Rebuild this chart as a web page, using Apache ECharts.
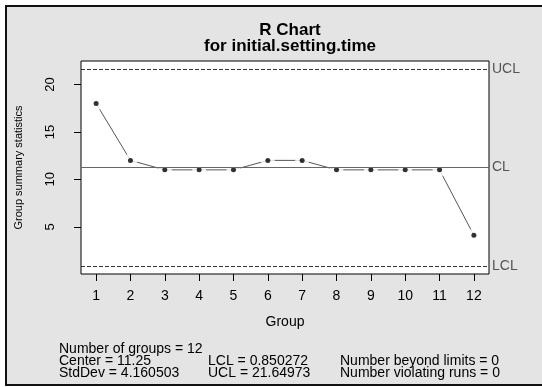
<!DOCTYPE html>
<html>
<head>
<meta charset="utf-8">
<script src="https://cdn.jsdelivr.net/npm/echarts@6/dist/echarts.min.js"></script>
<style>
  html, body { margin: 0; padding: 0; background: #fff; }
  #chart { width: 542px; height: 387px; }
</style>
</head>
<body>
<div id="chart"></div>
<script>
// R chart (qcc) for initial.setting.time
const groups = [1, 2, 3, 4, 5, 6, 7, 8, 9, 10, 11, 12]
const ranges = [18, 12, 11, 11, 11, 12, 12, 11, 11, 11, 11, 4.1]
const yTicks = [5, 10, 15, 20]
const limits = { LCL: 0.850272, CL: 11.25, UCL: 21.64973 }
const statLines = [
  ['Number of groups = 12', '', ''],
  ['Center = 11.25', 'LCL = 0.850272', 'Number beyond limits = 0'],
  ['StdDev = 4.160503', 'UCL = 21.64973', 'Number violating runs = 0']
]

const font = 'Liberation Sans, Arial, sans-serif'
const chart = echarts.init(document.getElementById('chart'))

// R pads the data range by 4% on each side
const yLo = limits.LCL, yHi = limits.UCL
const yPad = (yHi - yLo) * 0.04
const xPad = (groups[groups.length - 1] - groups[0]) * 0.04

const statText = []
const cols = [59, 208, 340]
statLines.forEach((row, i) => {
  row.forEach((t, j) => {
    if (!t) return
    statText.push({
      type: 'text', left: cols[j], top: 342 + i * 12, z: 10,
      style: { text: t, font: '14px ' + font, fill: '#000' }
    })
  })
})

const limitLine = (name, value, type) => ({
  yAxis: value,
  lineStyle: { type: type, color: type === 'solid' ? '#666' : '#333', width: 1 },
  label: { formatter: name }
})

const points = groups.map((g, i) => [g, ranges[i]])

chart.setOption({
  animation: false,
  backgroundColor: '#fff',
  graphic: [
    {
      type: 'rect', z: -10,
      shape: { x: 6, y: 6, width: 560, height: 379 },
      style: { fill: '#e4e4e4', stroke: '#111', lineWidth: 2 }
    },
    ...statText
  ],
  title: {
    text: 'R Chart\nfor initial.setting.time',
    left: 285, top: 17, textAlign: 'center',
    textStyle: { fontFamily: font, fontWeight: 'bold', fontSize: 17, lineHeight: 16, color: '#000' }
  },
  grid: {
    left: 81, right: 53, top: 61, bottom: 113,
    show: true, backgroundColor: '#fff', borderColor: '#000', borderWidth: 1
  },
  xAxis: {
    type: 'value',
    min: groups[0] - xPad, max: groups[groups.length - 1] + xPad,
    name: 'Group', nameLocation: 'middle', nameGap: 41,
    nameTextStyle: { fontFamily: font, fontSize: 14, color: '#000' },
    axisLine: { show: false },
    splitLine: { show: false },
    axisTick: { show: true, length: 7, lineStyle: { color: '#000' }, customValues: groups },
    axisLabel: { fontFamily: font, fontSize: 14, color: '#000', margin: 15, customValues: groups }
  },
  yAxis: {
    type: 'value',
    min: yLo - yPad, max: yHi + yPad,
    name: 'Group summary statistics', nameLocation: 'middle', nameGap: 57,
    nameTextStyle: { fontFamily: font, fontSize: 11, color: '#000' },
    axisLine: { show: false },
    splitLine: { show: false },
    axisTick: { show: true, length: 7, lineStyle: { color: '#000' }, customValues: yTicks },
    axisLabel: {
      fontFamily: font, fontSize: 13, color: '#000', rotate: 90, margin: 31,
      verticalAlign: 'middle', customValues: yTicks
    }
  },
  series: [
    {
      // connecting segments
      type: 'line', z: 1, data: points, showSymbol: false,
      lineStyle: { color: '#555', width: 1 }
    },
    {
      // white discs leave the small gaps R draws around each point
      type: 'scatter', z: 2, data: points, symbolSize: 14,
      itemStyle: { color: '#fff' }
    },
    {
      type: 'line', z: 3, data: [],
      markLine: {
        silent: true, symbol: 'none',
        label: { position: 'end', distance: 3, fontFamily: font, fontSize: 14, color: '#555' },
        data: [
          limitLine('UCL', limits.UCL, 'dashed'),
          limitLine('CL', limits.CL, 'solid'),
          limitLine('LCL', limits.LCL, 'dashed')
        ]
      }
    },
    {
      type: 'scatter', z: 4, data: points, symbolSize: 5,
      itemStyle: { color: '#000' }
    }
  ]
})
</script>
</body>
</html>
